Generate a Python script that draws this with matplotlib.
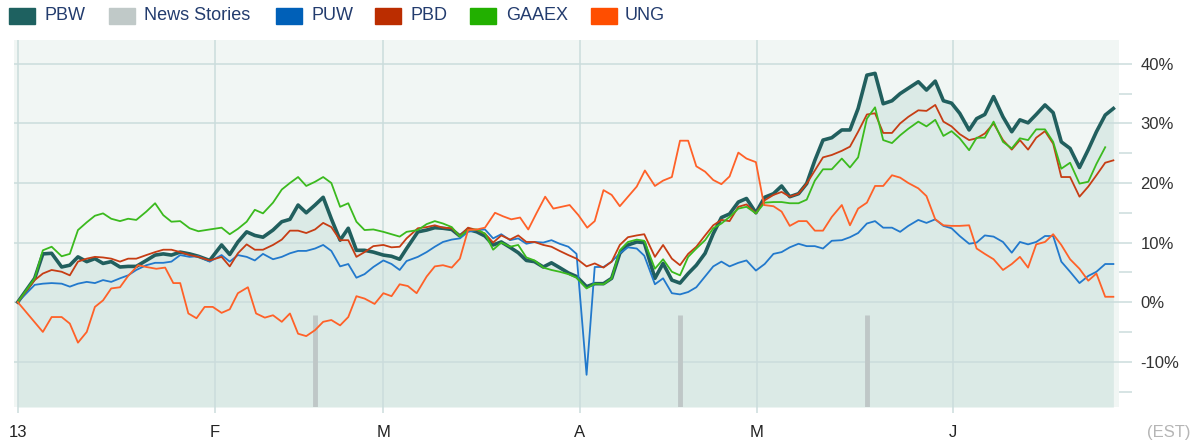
import matplotlib
matplotlib.use('Agg')

import matplotlib.pyplot as plt
from matplotlib.patches import Rectangle

plt.rcParams['font.family'] = ['Liberation Sans', 'DejaVu Sans']

# x = chart position in days from Jan 1
days = [0, 2.7, 4.0, 5.4, 7.0, 8.3, 9.6, 11.0, 12.3, 13.6, 14.9, 16.3, 17.6, 18.9, 20.5, 21.9, 23.2, 24.5, 25.9, 27.4, 28.8, 30.6, 32.5,
        33.8, 35.1, 36.5, 37.8, 39.1, 40.7, 42.1, 43.4, 44.7, 46.0, 47.4, 48.7, 50.0, 51.4, 52.7, 54.0, 55.3, 56.7, 58.3, 59.6, 60.9, 62.0,
        63.8, 65.2, 66.5, 67.8, 69.2, 70.5, 71.8, 73.2, 74.5, 75.8, 77.1, 78.5, 79.8, 81.1, 82.4, 83.8, 85.1, 86.4, 87.8, 89.1, 90.7, 92.0,
        93.4, 94.7, 96.0, 97.3, 98.7, 99.9,
        101.6, 102.9, 104.3, 105.6, 106.9, 108.2, 109.6, 110.9, 112.2, 113.5, 114.9, 116.2, 117.7, 119.1, 120.5, 121.8, 123.1, 124.5,
        125.8, 127.1, 128.4, 129.8, 131.4, 132.7, 134.0, 135.4, 136.7,
        138.0, 139.4, 140.7, 142.0, 143.6, 144.9, 146.3, 147.6, 148.9, 150.2, 151.7, 152.9, 154.2, 155.6, 157.1, 158.5, 159.8, 161.1,
        162.4, 163.8, 165.1, 166.4, 167.8, 169.3, 170.7, 172.0, 173.4, 174.7]

pbw = [0, 4.0, 8.1, 8.2, 5.9, 6.2, 7.6, 6.8, 7.3, 6.5, 6.8, 5.9, 6.0, 6.0, 7.0, 7.9, 8.1, 7.9, 8.4, 8.1, 7.7, 7.0, 9.6,
       8.0, 10.1, 11.8, 11.2, 10.9, 12.1, 13.5, 13.9, 16.3, 15.0, 16.3, 17.6, 14.0, 10.4, 12.4, 8.7, 8.7, 8.4, 7.9, 7.7, 7.2, 9.0,
       11.8, 12.1, 12.5, 12.4, 12.2, 11.1, 12.2, 11.8, 11.1, 9.6, 10.1, 9.2, 8.3, 7.0, 6.8, 5.9, 6.6, 5.8, 4.9, 4.3, 2.6, 3.1,
       3.1, 4.0, 8.2, 9.6, 10.1, 10.0,
       4.0, 6.5, 3.7, 3.2, 4.8, 6.2, 8.2, 11.5, 14.2, 14.8, 16.8, 17.4, 15.0, 17.6, 18.2, 19.5, 17.7, 18.2,
       19.9, 23.8, 27.2, 27.6, 28.9, 28.9, 32.5, 38.1, 38.4,
       33.3, 33.8, 35.0, 35.9, 37.0, 35.6, 37.1, 33.8, 33.4, 31.7, 28.9, 30.8, 31.5, 34.5, 31.1, 28.6, 30.6, 30.1,
       31.5, 33.1, 31.8, 26.9, 25.8, 22.6, 25.6, 28.6, 31.4, 32.5]

puw = [0, 2.9, 3.1, 3.2, 3.1, 2.6, 3.1, 3.4, 3.2, 3.7, 3.4, 4.0, 4.5, 5.4, 6.2, 6.6, 6.6, 6.8, 7.9, 7.6, 7.7, 6.8, 7.9,
       6.8, 7.9, 7.6, 7.0, 8.1, 7.2, 7.6, 8.2, 8.6, 8.6, 9.0, 9.6, 8.6, 6.0, 6.4, 4.1, 4.7, 5.9, 7.0, 6.4, 5.4, 6.9,
       7.6, 8.4, 9.3, 10.1, 10.5, 10.7, 11.8, 12.1, 12.2, 10.7, 11.4, 10.4, 10.7, 9.8, 10.1, 10.0, 10.4, 9.8, 9.3, 8.1, -12.2, 5.9,
       5.9, 6.8, 8.2, 9.2, 9.0, 7.8,
       3.0, 4.0, 1.5, 1.3, 1.7, 2.5, 4.3, 6.0, 6.8, 6.0, 6.6, 7.0, 5.3, 6.4, 8.1, 8.4, 9.2, 9.8,
       9.4, 9.4, 9.0, 10.3, 10.4, 10.9, 11.6, 13.2, 13.6,
       12.5, 12.5, 11.8, 12.8, 13.8, 13.3, 13.9, 12.8, 12.4, 11.1, 9.8, 10.0, 11.2, 11.0, 10.1, 8.3, 10.1, 9.7,
       10.1, 11.1, 11.1, 6.8, 5.1, 3.2, 4.4, 5.1, 6.4, 6.4]

pbd = [0, 3.7, 4.8, 5.4, 5.1, 4.5, 6.8, 7.3, 7.6, 7.5, 7.3, 6.8, 7.3, 7.3, 7.9, 8.4, 8.8, 8.8, 8.4, 7.9, 7.6, 7.0, 7.6,
       6.0, 8.2, 9.7, 8.8, 8.8, 9.6, 10.5, 12.0, 12.0, 11.6, 12.2, 13.3, 12.6, 10.4, 10.4, 7.6, 8.4, 9.4, 9.6, 9.2, 9.3, 10.7,
       12.4, 12.6, 12.9, 12.5, 12.4, 11.1, 12.5, 12.1, 11.5, 10.0, 11.2, 10.5, 11.2, 10.1, 10.1, 9.6, 9.3, 8.6, 7.9, 7.3, 6.0, 6.5,
       5.8, 6.8, 9.6, 10.9, 11.2, 11.4,
       7.6, 9.6, 7.3, 6.2, 8.1, 9.3, 11.2, 12.9, 13.8, 13.6, 16.0, 16.4, 14.9, 17.1, 18.0, 18.5, 17.7, 18.2,
       19.9, 22.1, 24.3, 24.7, 25.4, 26.1, 28.6, 31.5, 31.7,
       28.4, 28.4, 30.0, 31.1, 32.2, 32.1, 33.1, 30.3, 29.5, 28.2, 27.2, 27.5, 28.3, 30.0, 27.2, 25.6, 27.2, 25.6,
       27.6, 28.7, 26.6, 21.0, 21.0, 17.7, 19.4, 21.3, 23.4, 23.8]

gaaex = [0, 4.0, 8.7, 9.3, 7.7, 8.1, 12.1, 13.4, 14.5, 14.9, 14.0, 13.6, 14.0, 13.8, 15.2, 16.6, 14.6, 13.5, 13.6, 12.4, 11.9, 12.2, 12.5,
         11.4, 12.3, 13.5, 15.5, 14.9, 16.7, 18.9, 20.0, 21.0, 19.5, 20.2, 21.0, 20.0, 16.0, 16.6, 13.5, 12.1, 12.2, 11.8, 11.4, 11.0, 11.8,
         12.1, 13.1, 13.6, 13.2, 12.6, 11.0, 12.1, 12.2, 11.5, 8.8, 10.0, 9.3, 9.6, 7.5, 7.0, 5.8, 5.4, 5.1, 4.7, 4.1, 2.3, 3.1,
         3.0, 4.0, 8.7, 10.1, 10.5, 10.3,
         5.6, 7.2, 5.1, 4.5, 7.6, 9.0, 10.4, 12.4, 13.2, 14.3, 15.7, 16.0, 14.9, 16.7, 16.8, 16.8, 16.6, 16.6,
         17.2, 20.4, 22.3, 22.3, 24.1, 22.6, 24.3, 30.8, 32.7,
         27.2, 26.7, 28.0, 29.1, 30.3, 29.5, 30.6, 27.9, 28.7, 27.5, 25.5, 27.6, 27.6, 30.3, 26.9, 25.8, 27.5, 27.2,
         29.0, 29.0, 26.9, 22.4, 23.4, 19.9, 20.2, 23.2, 26.0]

ung_days = [0, 4.0, 5.4, 7.0, 8.3, 9.6, 11.0, 12.3, 13.6, 14.9, 16.3, 17.6, 19.2, 20.5, 22.1, 23.5, 24.8, 25.9, 27.2, 28.5, 29.8, 31.1, 32.5,
            33.8, 35.1, 36.7, 38.0, 39.4, 40.7, 42.1, 43.4, 44.7, 46.0, 47.4, 48.7, 50.0, 51.4, 52.7, 54.0, 55.3, 56.9, 58.3, 59.6, 60.9, 62.2,
            63.6, 65.2, 66.5, 67.8, 69.2, 70.5, 71.8, 73.2, 74.5, 76.1, 77.4, 78.7, 80.1, 81.4, 82.7, 84.1, 85.4, 86.7, 88.0, 89.4, 90.8, 92.0,
            93.4, 94.7, 96.0, 97.3, 98.7, 100.0,
            101.6, 102.9, 104.3, 105.6, 106.9, 108.2, 109.6, 110.9, 112.2, 113.5, 114.9, 116.2, 117.7, 119.0, 120.5, 121.8, 123.1, 124.5,
            125.8, 127.1, 128.4, 129.8, 131.4, 132.7, 134.0, 135.4, 136.7,
            138.0, 139.4, 140.7, 142.0, 143.6, 144.9, 146.3, 147.6, 148.9, 150.2, 151.7, 152.9, 154.2, 155.6, 157.1, 158.5, 159.8, 161.1,
            162.4, 163.8, 165.1, 166.4, 167.8, 169.3, 170.7, 172.0, 173.4, 174.7]

ung = [0, -5.0, -2.5, -2.5, -3.6, -6.8, -5.0, -0.8, 0.3, 2.3, 2.5, 4.4, 6.2, 5.9, 5.6, 5.8, 3.2, 3.2, -1.9, -2.7, -0.8, -0.8, -1.8,
       -1.2, 1.5, 2.5, -1.9, -2.6, -2.2, -3.3, -1.9, -5.3, -5.7, -4.7, -3.3, -3.0, -3.9, -2.5, 1.0, 0.6, -0.3, 1.5, 1.0, 3.0, 2.7,
       1.5, 4.3, 6.0, 6.2, 5.8, 7.3, 12.1, 12.2, 12.5, 15.0, 14.4, 13.9, 14.2, 12.2, 14.9, 17.7, 15.7, 16.0, 16.3, 14.6, 12.5, 13.6,
       18.8, 18.0, 16.1, 17.7, 19.4, 22.1,
       19.5, 20.4, 21.0, 27.1, 27.1, 22.8, 21.9, 20.5, 19.8, 21.1, 25.1, 24.1, 23.5, 16.3, 16.1, 15.2, 12.8, 13.6,
       13.6, 12.0, 12.0, 14.3, 16.3, 12.9, 15.7, 16.7, 19.5,
       19.5, 21.3, 20.9, 20.0, 19.1, 17.8, 13.9, 12.9, 12.8, 12.8, 12.9, 9.0, 8.1, 7.2, 5.4, 6.4, 7.6, 5.8,
       9.7, 10.1, 11.4, 9.6, 7.2, 5.6, 3.6, 4.8, 0.9, 0.9]

news_days = [47.4, 105.6, 135.4]
news_top = -2.2

month_pos = [0, 31.4, 58.3, 89.6, 117.8, 149.1]
month_labels = ['13', 'F', 'M', 'A', 'M', 'J']
pct_ticks = [-10, 0, 10, 20, 30, 40]

W, H = 1195, 444
y_lo, y_hi = -17.6, 44.0
grid_c = '#cbdcdc'

fig = plt.figure(figsize=(W / 100, H / 100), dpi=100)
ax = fig.add_axes([14 / W, 1 - 407 / H, (1119 - 14) / W, (407 - 40) / H])
ax.set_facecolor('#f1f6f4')

# 区域填充（PBW 下方）
ax.fill_between(days, pbw, y_lo, color='#dbeae6', lw=0, zorder=0.2)

# 新闻柱
ax.vlines(news_days, y_lo, news_top, color='#bfc7c7', lw=3.5, zorder=1)

ax.plot(days, pbw, color='#215f5e', lw=2.6, zorder=2, solid_joinstyle='round')
ax.plot(days, puw, color='#2279cc', lw=1.3, zorder=3)
ax.plot(days, pbd, color='#c63d14', lw=1.3, zorder=3)
ax.plot(days[:len(gaaex)], gaaex, color='#3bba1e', lw=1.3, zorder=3)
ax.plot(ung_days, ung, color='#ff6128', lw=1.3, zorder=3)

ax.set_xlim(-0.6, 175.6)
ax.set_ylim(y_lo, y_hi)

ax.set_xticks(month_pos)
ax.set_xticklabels(month_labels)
ax.set_yticks(pct_ticks)
ax.set_yticklabels([f'{v}%' for v in pct_ticks])
ax.set_yticks([v + 5 for v in [-20] + pct_ticks[:-1]], minor=True)
ax.yaxis.tick_right()
ax.set_axisbelow(True)
ax.grid(True, which='major', color=grid_c, lw=1.1)

ax.tick_params(axis='y', which='both', length=9.5, width=1.1, color=grid_c,
               pad=6, labelsize=12, labelcolor='#333333', right=True, left=False)
ax.tick_params(axis='x', length=4, width=1.1, color=grid_c, pad=9,
               labelsize=12, labelcolor='#222222')
for s in ax.spines.values():
    s.set_visible(False)

# 图例（手动摆放）
legend_items = [
    ('PBW', '#1e6160', 9, 44),
    ('News Stories', '#c0c9c8', 109, 144),
    ('PUW', '#0060b8', 276, 311),
    ('PBD', '#bb2d00', 375, 411),
    ('GAAEX', '#22b000', 470, 506),
    ('UNG', '#ff4e00', 591, 625),
]
for name, c, sx, tx in legend_items:
    fig.patches.append(Rectangle((sx / W, 1 - 24 / H), 26 / W, 16 / H,
                                 transform=fig.transFigure, color=c))
    fig.text(tx / W, 1 - 16 / H, name, va='center', ha='left',
             fontsize=13, color='#233c6e')

fig.text(1190 / W, 1 - 432 / H, '(EST)', ha='right', va='center',
         fontsize=12, color='#b5b5b5')

fig.savefig('out.png', dpi=100)
